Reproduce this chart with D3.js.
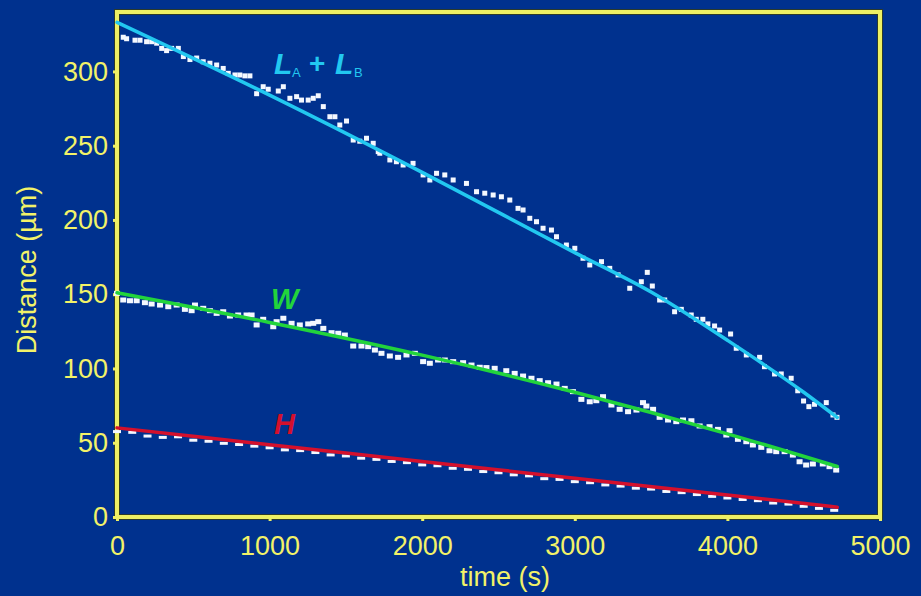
<!DOCTYPE html>
<html>
<head>
<meta charset="utf-8">
<script src="https://cdn.jsdelivr.net/npm/d3@7"></script>
<style>
  body { margin: 0; background: #00318e; }
  svg { display: block; }
</style>
</head>
<body>
<script>
var svgWidth = 921;
var svgHeight = 596;

// measured points, L_A + L_B (time s, distance um)
var lTime = [41,63,118,151,194,227,260,293,325,358,402,435,478,522,565,609,653,696,729,773,805,838,871,915,958,991,
  1057,1090,1133,1177,1209,1253,1286,1319,1352,1395,1428,1460,1504,1548,1591,1635,1679,1712,1722,1788,1831,1875,1940,
  2006,2050,2094,2148,2203,2290,2356,2410,2465,2519,2574,2628,2661,2705,2749,2792,2847,2880,2945,3000,3054,3098,3175,
  3229,3284,3360,3436,3475,3508,3556,3589,3654,3698,3763,3796,3839,3872,3916,3949,4021,4058,4124,4211,4243,4309,4353,
  4418,4461,4499,4534,4571,4648,4692,4718];
var lDist = [323,322,321,321,320,320,319,315.5,314,315.5,315.5,310,308,309,306.5,305.5,304.3,302,298.7,297.6,297.6,297,297,285,289.7,288,
  286.8,289.7,281.9,283,280.7,280.7,281.9,283.6,276.3,269.5,269.5,263.9,266.6,253.8,253,255,251.6,246,244.9,240.4,239.2,237,238.1,
  230.3,226.9,231.4,230.3,226.9,224.6,219,218,216.8,215.6,213.4,207.8,206.7,201.1,198.8,194.4,193.2,188.7,183.1,180.9,174.2,169.7,171.9,
  167.4,163,154,158.4,164.7,155.5,146.1,146.1,138.2,139.8,136,133.1,133.1,130,128.6,125.9,123.2,113.6,109.1,107.5,101.2,96.3,96.3,
  93.4,85,78.1,74.3,75.9,77,68.7,67.1];

// measured points, W
var wTime = [0,41,85,129,183,227,282,336,391,445,489,511,565,609,653,696,740,794,849,882,915,958,1024,1046,1090,1144,1198,
  1253,1286,1319,1352,1406,1450,1493,1548,1602,1646,1690,1733,1788,1842,1897,1952,2006,2050,2104,2148,2203,2268,2323,2377,
  2421,2475,2551,2606,2661,2716,2770,2825,2880,2934,2988,3043,3098,3141,3185,3240,3294,3349,3404,3447,3469,3513,3556,3611,
  3665,3709,3764,3818,3883,3938,3993,4014,4069,4124,4167,4222,4276,4320,4375,4429,4473,4516,4560,4625,4669,4713];
var wDist = [150.6,146.1,145.6,145.6,144.3,143.4,142.7,141.6,142.7,139.8,138.9,142.7,140.5,138.9,137.1,138.2,135.3,136,136,136,129.3,133.1,128.1,131.5,133.8,130.4,129.3,
  130,130.4,131.5,127,124.1,123.7,122.5,115.1,115.1,114.7,112.4,110.2,108.4,107.5,109.1,110.2,104.6,103.5,105.7,105.7,104.6,103.9,102.3,100.8,
  100.6,100.1,98.5,96.7,94.9,93.4,91.8,90.4,89.5,86.6,84.4,79.2,77.6,78.3,81,75.4,72.5,70.9,72,77,74.7,72.5,67.1,65.3,
  64.2,65.3,64.8,61.3,60.8,59,55.2,58.1,52.3,50.7,48.5,46.9,44.6,44,44,41.7,37.2,35,35.7,35.7,33.9,31.6];

// measured points, H
var hTime = [0,100,200,300,400,500,600,700,800,900,1000,1100,1200,1300,1400,1500,1600,1700,1800,1900,2000,2100,2200,2300,
  2400,2500,2600,2700,2800,2900,3000,3100,3200,3300,3400,3500,3600,3700,3800,3900,4000,4100,4200,4300,4400,4500,4600,4700];
var hDist = [57.5,57,54.5,53.6,54,51.7,51,49.6,48.8,47.7,46.6,45.2,44.7,43.4,41.8,41.1,39.6,38.8,37.4,36.6,35.1,34.5,32.8,32.1,
  30.6,29.8,28.4,27.7,25.8,25.3,23.8,23.1,21.6,20.8,19.4,18.8,17.2,16.4,15.1,13.9,12.8,11.8,11,9.4,8.7,7.2,5.8,4.5];

// fitted curves
var fitTime = [0,1000,2000,3000,3500,4000,4500,4720];
var lFit = [333,284,232,178,151.5,119,84,67];
var wFitTime = [0,1000,2000,3000,4000,4720];
var wFit = [151,131,109,84,56,34];
var hFit = [60,48.7,37.4,26.1,14.8,6.6];

var xTicks = [0,1000,2000,3000,4000,5000];
var yTicks = [0,50,100,150,200,250,300];

var yellow = "#eef064";
var labelYellow = "#f2f268";

var svg = d3.select("body")
  .append("svg")
  .attr("width", svgWidth)
  .attr("height", svgHeight);

var xScale = d3.scaleLinear().domain([0, 5000]).range([117, 880]);
var yScale = d3.scaleLinear().domain([0, 340]).range([517, 12]);

// frame, dark edge under yellow
svg.append("rect")
  .attr("x", xScale(0)).attr("y", yScale(340))
  .attr("width", xScale(5000) - xScale(0))
  .attr("height", yScale(0) - yScale(340))
  .attr("fill", "none")
  .attr("stroke", "#2c3a2a")
  .attr("stroke-width", 6);

svg.append("rect")
  .attr("x", xScale(0)).attr("y", yScale(340))
  .attr("width", xScale(5000) - xScale(0))
  .attr("height", yScale(0) - yScale(340))
  .attr("fill", "none")
  .attr("stroke", yellow)
  .attr("stroke-width", 4);

var xAxis = d3.axisBottom(xScale).tickValues(xTicks).tickSize(4).tickPadding(15).tickFormat(d3.format("d"));
var yAxis = d3.axisLeft(yScale).tickValues(yTicks).tickSize(4).tickPadding(5).tickFormat(d3.format("d"));

var gx = svg.append("g")
  .attr("transform", `translate(0, ${yScale(0)})`)
  .call(xAxis);
var gy = svg.append("g")
  .attr("transform", `translate(${xScale(0)}, 0)`)
  .call(yAxis);

[gx, gy].forEach(function(g) {
  g.select(".domain").remove();
  g.selectAll("line").attr("stroke", yellow).attr("stroke-width", 3);
  g.selectAll("text")
    .attr("fill", labelYellow)
    .style("font-family", "Liberation Sans, Arial, sans-serif")
    .style("font-size", "27px");
});

// axis titles
svg.append("text")
  .attr("transform", "translate(36, 270) rotate(-90)")
  .attr("text-anchor", "middle")
  .attr("fill", labelYellow)
  .style("font-family", "Liberation Sans, Arial, sans-serif")
  .style("font-size", "27px")
  .text("Distance (µm)");

svg.append("text")
  .attr("x", 505)
  .attr("y", 586)
  .attr("text-anchor", "middle")
  .attr("fill", labelYellow)
  .style("font-family", "Liberation Sans, Arial, sans-serif")
  .style("font-size", "27px")
  .text("time (s)");

// data points
function drawPoints(times, dists, w, h) {
  svg.append("g")
    .selectAll("rect")
    .data(times)
    .enter()
    .append("rect")
    .attr("x", (d, i) => xScale(d) - w / 2)
    .attr("y", (d, i) => yScale(dists[i]) - h / 2)
    .attr("width", w)
    .attr("height", h)
    .attr("fill", "#f4f8ff");
}
drawPoints(lTime, lDist, 5, 5);
drawPoints(wTime, wDist, 6, 5);
drawPoints(hTime, hDist, 8, 3);

// fit lines
function drawFit(times, vals, color) {
  var line = d3.line()
    .x((d, i) => xScale(times[i]))
    .y(d => yScale(d))
    .curve(d3.curveMonotoneX);
  svg.append("path")
    .datum(vals)
    .attr("d", line)
    .attr("fill", "none")
    .attr("stroke", color)
    .attr("stroke-width", 3.5)
    .attr("stroke-linecap", "round");
}
drawFit(fitTime, lFit, "#22c8f0");
drawFit(wFitTime, wFit, "#22d43c");
drawFit(wFitTime, hFit, "#d4102c");

// curve labels
var lab = svg.append("text")
  .attr("fill", "#22c8f0")
  .style("font-family", "Liberation Sans, Arial, sans-serif");
lab.append("tspan").attr("x", 274).attr("y", 74)
  .style("font-size", "30px").style("font-weight", "bold").style("font-style", "italic").text("L");
lab.append("tspan").attr("x", 292).attr("y", 77)
  .style("font-size", "13px").text("A");
lab.append("tspan").attr("x", 309).attr("y", 73)
  .style("font-size", "28px").style("font-weight", "bold").text("+");
lab.append("tspan").attr("x", 335).attr("y", 74)
  .style("font-size", "30px").style("font-weight", "bold").style("font-style", "italic").text("L");
lab.append("tspan").attr("x", 354).attr("y", 77)
  .style("font-size", "13px").text("B");

svg.append("text")
  .attr("x", 271).attr("y", 309)
  .attr("fill", "#22d43c")
  .style("font-family", "Liberation Sans, Arial, sans-serif")
  .style("font-size", "29px").style("font-weight", "bold").style("font-style", "italic")
  .text("W");

svg.append("text")
  .attr("x", 274).attr("y", 434)
  .attr("fill", "#d4102c")
  .style("font-family", "Liberation Sans, Arial, sans-serif")
  .style("font-size", "29px").style("font-weight", "bold").style("font-style", "italic")
  .text("H");
</script>
</body>
</html>
